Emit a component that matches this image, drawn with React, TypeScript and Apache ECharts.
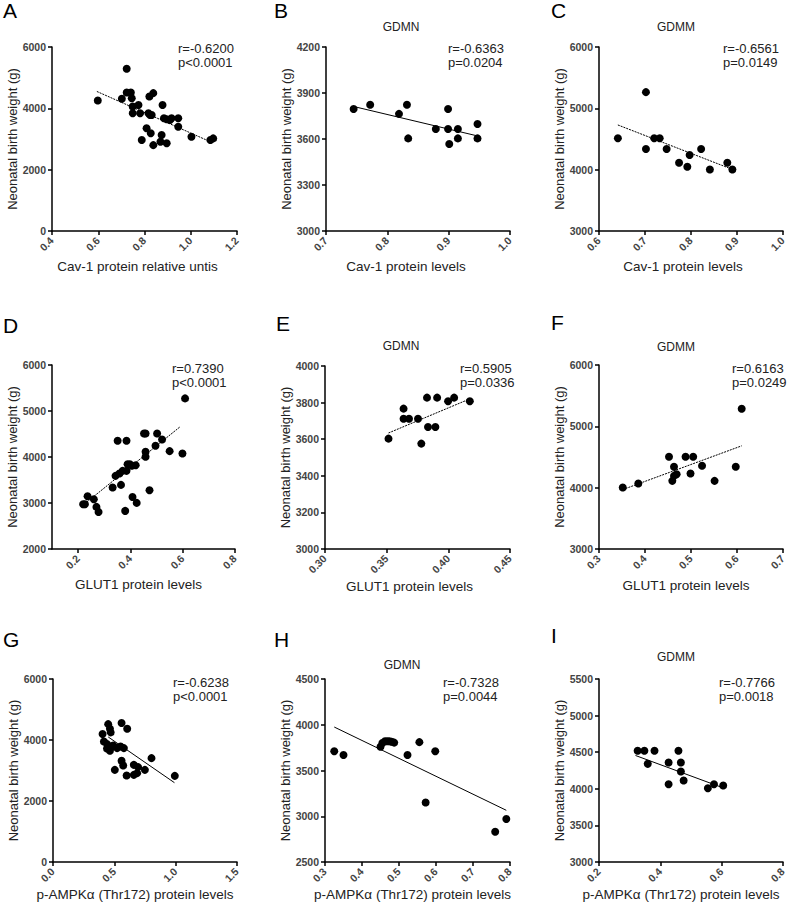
import React, { useEffect, useRef } from "react";
import * as echarts from "echarts";

// ---------- data ----------
const ptsA = [[0.598,4255],[0.702,4310],[0.723,5290],[0.723,4515],[0.741,4515],[0.745,4330],[0.749,4060],[0.749,3840],[0.774,4110],[0.781,3840],[0.788,2970],[0.809,3350],[0.817,3840],[0.824,3785],[0.821,4385],[0.838,4495],[0.831,3785],[0.827,3185],[0.838,2800],[0.878,4110],[0.874,3130],[0.869,2910],[0.896,2860],[0.884,3675],[0.896,3645],[0.910,3620],[0.917,3675],[0.946,3675],[0.946,3400],[1.003,3075],[1.085,2970],[1.097,3020]];
const fitA = [[0.594,4550],[1.085,2910]];

const ptsB = [[0.745,3796],[0.772,3823],[0.819,3764],[0.832,3823],[0.834,3604],[0.879,3665],[0.899,3796],[0.899,3665],[0.901,3567],[0.915,3665],[0.915,3604],[0.947,3698],[0.947,3604]];
const fitB = [[0.745,3812],[0.947,3620]];

const ptsC = [[0.641,4511],[0.702,5264],[0.702,4336],[0.720,4511],[0.732,4511],[0.747,4336],[0.774,4113],[0.792,4047],[0.797,4238],[0.822,4336],[0.841,4004],[0.879,4113],[0.890,4004]];
const fitC = [[0.641,4729],[0.890,4004]];

const ptsD = [[0.219,2973],[0.226,2973],[0.236,3147],[0.260,3082],[0.270,2915],[0.278,2806],[0.332,3336],[0.343,3590],[0.351,4352],[0.358,3641],[0.364,3394],[0.370,3699],[0.380,2828],[0.385,4352],[0.385,3699],[0.389,3844],[0.398,3844],[0.405,3808],[0.408,3132],[0.420,3822],[0.424,3002],[0.452,4512],[0.458,4512],[0.458,4113],[0.458,4004],[0.473,3278],[0.496,4243],[0.502,4512],[0.521,4381],[0.550,4127],[0.599,4076],[0.609,5274]];
const fitD = [[0.234,3024],[0.590,4657]];

const ptsE = [[0.3515,3603],[0.3637,3712],[0.3637,3767],[0.3681,3712],[0.3754,3712],[0.3781,3576],[0.3827,3827],[0.3835,3667],[0.3895,3667],[0.3909,3827],[0.3998,3807],[0.4047,3827],[0.4174,3807]];
const fitE = [[0.3515,3634],[0.4166,3818]];

const ptsF = [[0.3517,4002],[0.3855,4067],[0.4522,4503],[0.4630,4340],[0.4630,4192],[0.4594,4111],[0.4688,4219],[0.4882,4503],[0.4989,4230],[0.5047,4503],[0.5240,4356],[0.5513,4111],[0.5973,4340],[0.6102,5287]];
const fitF = [[0.3517,3969],[0.6102,4682]];

const ptsG = [[0.450,4520],[0.470,4250],[0.464,4368],[0.559,4555],[0.605,4368],[0.404,4194],[0.415,3951],[0.442,3865],[0.469,3754],[0.491,3819],[0.523,3734],[0.551,3787],[0.578,3734],[0.464,3645],[0.440,3720],[0.803,3405],[0.559,3317],[0.572,3163],[0.504,3021],[0.659,3185],[0.694,3110],[0.600,2834],[0.659,2857],[0.686,2913],[0.749,3021],[0.993,2824]];
const fitG = [[0.45,4100],[0.99,2600]];

const ptsH = [[0.325,3710],[0.350,3670],[0.450,3760],[0.455,3800],[0.462,3820],[0.468,3820],[0.474,3820],[0.480,3815],[0.487,3805],[0.523,3670],[0.555,3810],[0.598,3710],[0.572,3150],[0.760,2830],[0.790,2970]];
const fitH = [[0.325,3975],[0.790,3065]];

const ptsI = [[0.326,4519],[0.348,4519],[0.381,4519],[0.359,4341],[0.427,4359],[0.427,4063],[0.459,4519],[0.467,4359],[0.467,4236],[0.476,4113],[0.555,4008],[0.575,4063],[0.605,4045]];
const fitI = [[0.319,4455],[0.608,4008]];

// tick labels
const xTicksA = [0.4, 0.6, 0.8, 1.0, 1.2];
const xTicksB = [0.7, 0.8, 0.9, 1.0];
const xTicksC = [0.6, 0.7, 0.8, 0.9, 1.0];
const xTicksD = [0.2, 0.4, 0.6, 0.8];
const xTicksE = [0.30, 0.35, 0.40, 0.45];
const xTicksF = [0.3, 0.4, 0.5, 0.6, 0.7];
const xTicksG = [0.0, 0.5, 1.0, 1.5];
const xTicksH = [0.3, 0.4, 0.5, 0.6, 0.7, 0.8];
const xTicksI = [0.2, 0.4, 0.6, 0.8];

const yTicksA = [0, 2000, 4000, 6000];
const yTicksB = [3000, 3300, 3600, 3900, 4200];
const yTicksC = [3000, 4000, 5000, 6000];
const yTicksD = [2000, 3000, 4000, 5000, 6000];
const yTicksE = [3000, 3200, 3400, 3600, 3800, 4000];
const yTicksF = [3000, 4000, 5000, 6000];
const yTicksG = [0, 2000, 4000, 6000];
const yTicksH = [2500, 3000, 3500, 4000, 4500];
const yTicksI = [3000, 3500, 4000, 4500, 5000, 5500];

const letters = ["A", "B", "C", "D", "E", "F", "G", "H", "I"];
const groupTitles = ["", "GDMN", "GDMM", "", "GDMN", "GDMM", "", "GDMN", "GDMM"];
const xNames = [
  "Cav-1 protein relative untis", "Cav-1 protein levels", "Cav-1 protein levels",
  "GLUT1 protein levels", "GLUT1 protein levels", "GLUT1 protein levels",
  "p-AMPKα (Thr172) protein levels", "p-AMPKα (Thr172) protein levels", "p-AMPKα (Thr172) protein levels",
];
const yName = "Neonatal birth weight (g)";
const rValues = ["r=-0.6200", "r=-0.6363", "r=-0.6561", "r=0.7390", "r=0.5905", "r=0.6163", "r=-0.6238", "r=-0.7328", "r=-0.7766"];
const pValues = ["p<0.0001", "p=0.0204", "p=0.0149", "p<0.0001", "p=0.0336", "p=0.0249", "p<0.0001", "p=0.0044", "p=0.0018"];

const FONT = "'Liberation Sans', Arial, Helvetica, sans-serif";

export default function App() {
  const ref = useRef<HTMLDivElement>(null);
  useEffect(() => {
    const chart = echarts.init(ref.current!, null, { renderer: "svg" });

    const panels = [
      { pts: ptsA, fit: fitA, xr: [0.4, 1.2], xt: xTicksA, xd: 1, yr: [0, 6000], yt: yTicksA, g: [52, 47, 185, 184], lp: [3, 0], tp: null, sp: [178, 41], dash: true, ns: 14, ng: 28 },
      { pts: ptsB, fit: fitB, xr: [0.7, 1.0], xt: xTicksB, xd: 1, yr: [3000, 4200], yt: yTicksB, g: [326, 47, 184, 184], lp: [274, 0], tp: [401, 21], sp: [448, 41], dash: false, ns: 24, ng: 28 },
      { pts: ptsC, fit: fitC, xr: [0.6, 1.0], xt: xTicksC, xd: 1, yr: [3000, 6000], yt: yTicksC, g: [599, 47, 185, 184], lp: [551, 0], tp: [676, 21], sp: [723, 41], dash: true, ns: 16, ng: 28 },
      { pts: ptsD, fit: fitD, xr: [0.1, 0.8], xt: xTicksD, xd: 1, yr: [2000, 6000], yt: yTicksD, g: [52, 365, 183, 184], lp: [3, 315], tp: null, sp: [172, 361], dash: true, ns: 10, ng: 28 },
      { pts: ptsE, fit: fitE, xr: [0.30, 0.45], xt: xTicksE, xd: 2, yr: [3000, 4000], yt: yTicksE, g: [325, 366, 185, 183], lp: [276, 313], tp: [401, 340], sp: [460, 361], dash: true, ns: 16, ng: 30 },
      { pts: ptsF, fit: fitF, xr: [0.3, 0.7], xt: xTicksF, xd: 1, yr: [3000, 6000], yt: yTicksF, g: [599, 365, 185, 184], lp: [551, 312], tp: [676, 341], sp: [732, 361], dash: true, ns: 10, ng: 29 },
      { pts: ptsG, fit: fitG, xr: [0, 1.5], xt: xTicksG, xd: 1, yr: [0, 6000], yt: yTicksG, g: [53, 679, 184, 183], lp: [3, 629], tp: null, sp: [173, 675], dash: false, ns: 20, ng: 25 },
      { pts: ptsH, fit: fitH, xr: [0.3, 0.8], xt: xTicksH, xd: 1, yr: [2500, 4500], yt: yTicksH, g: [325, 679, 185, 183], lp: [274, 629], tp: [402, 659], sp: [443, 675], dash: false, ns: 10, ng: 25 },
      { pts: ptsI, fit: fitI, xr: [0.2, 0.8], xt: xTicksI, xd: 1, yr: [3000, 5500], yt: yTicksI, g: [599, 679, 185, 183], lp: [551, 625], tp: [676, 651], sp: [719, 675], dash: false, ns: 20, ng: 25 },
    ];

    const axisLineStyle = { color: "#000", width: 1.5 };
    const tickLabel = { fontSize: 10.5, fontWeight: "bold", fontFamily: FONT, color: "#444" };

    const grid: any[] = [];
    const xAxis: any[] = [];
    const yAxis: any[] = [];
    const series: any[] = [];
    const title: any[] = [];

    panels.forEach((p, i) => {
      grid.push({ left: p.g[0], top: p.g[1], width: p.g[2], height: p.g[3], containLabel: false });
      xAxis.push({
        gridIndex: i, type: "value", min: p.xr[0], max: p.xr[1],
        axisLine: { show: true, onZero: false, lineStyle: axisLineStyle },
        axisTick: { show: true, length: 4, customValues: p.xt, lineStyle: axisLineStyle },
        axisLabel: { ...tickLabel, customValues: p.xt, rotate: 45, margin: 8, formatter: (v: number) => v.toFixed(p.xd) },
        splitLine: { show: false },
        name: xNames[i], nameLocation: "middle", nameGap: p.ng,
        nameTextStyle: { fontSize: 13.5, fontFamily: FONT, color: "#222", padding: [0, p.ns, 0, 0] },
      });
      yAxis.push({
        gridIndex: i, type: "value", min: p.yr[0], max: p.yr[1],
        axisLine: { show: true, onZero: false, lineStyle: axisLineStyle },
        axisTick: { show: true, length: 4, customValues: p.yt, lineStyle: axisLineStyle },
        axisLabel: { ...tickLabel, customValues: p.yt, margin: 6, formatter: (v: number) => String(v) },
        splitLine: { show: false },
        name: yName, nameLocation: "middle", nameGap: 33,
        nameTextStyle: { fontSize: 13, fontFamily: FONT, color: "#222" },
      });
      series.push({
        type: "scatter", xAxisIndex: i, yAxisIndex: i, data: p.pts,
        symbol: "circle", symbolSize: 8, itemStyle: { color: "#000", opacity: 1 }, z: 3,
      });
      series.push({
        type: "line", xAxisIndex: i, yAxisIndex: i, data: p.fit,
        showSymbol: false, symbol: "none",
        lineStyle: { color: "#000", width: 1, type: p.dash ? [2, 1] : "solid" }, z: 2,
      });
      title.push({
        text: letters[i], left: p.lp[0], top: p.lp[1], padding: 0,
        textStyle: { fontSize: 21, fontWeight: "normal", fontFamily: FONT, color: "#000" },
      });
      if (p.tp) {
        title.push({
          text: groupTitles[i], left: p.tp[0], top: p.tp[1], padding: 0, textAlign: "center",
          textStyle: { fontSize: 12, fontWeight: "normal", fontFamily: FONT, color: "#222" },
        });
      }
      title.push({
        text: rValues[i] + "\n" + pValues[i], left: p.sp[0], top: p.sp[1], padding: 0,
        textStyle: { fontSize: 13, fontWeight: "normal", fontFamily: FONT, color: "#222", lineHeight: 14 },
      });
    });

    chart.setOption({
      animation: false,
      backgroundColor: "#fff",
      title, grid, xAxis, yAxis, series,
    });
    return () => chart.dispose();
  }, []);
  return <div ref={ref} style={{ position: "absolute", left: 0, top: 0, width: 789, height: 907 }} />;
}
